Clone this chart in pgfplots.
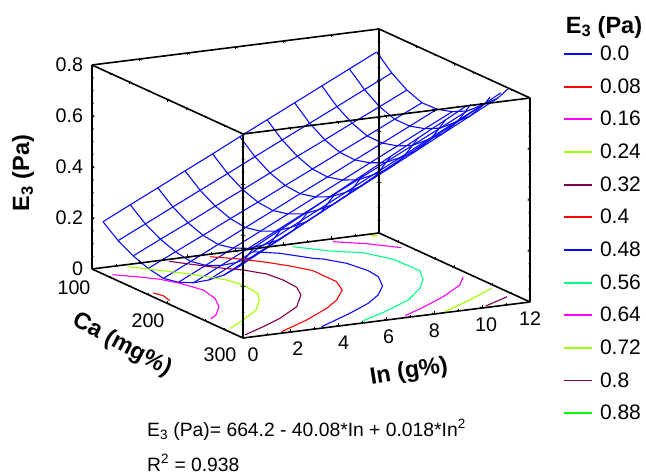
\documentclass[border=0pt]{standalone}
\usepackage{pgfplots}
\pgfplotsset{compat=1.18}
\usepackage{fontspec}
\setmainfont{Liberation Sans}
\newcommand{\fs}{\fontsize{19.7}{24}\selectfont}
\newcommand{\lf}{\fontsize{21}{25}\selectfont}
\newcommand{\bs}{\fontsize{23.5}{28}\selectfont\bfseries}
\definecolor{cB}{RGB}{10,10,255}
\definecolor{cR}{RGB}{255,0,0}
\definecolor{cM}{RGB}{255,0,255}
\definecolor{cL}{RGB}{160,255,0}
\definecolor{cD}{RGB}{128,0,80}
\definecolor{cG}{RGB}{0,255,128}
\pgfplotsset{mm/.style={cB,line width=1.1pt,forget plot,line join=round},
 cc/.style={#1,line width=1.1pt,forget plot,line join=round}}
\begin{document}
\begin{tikzpicture}[x=1pt,y=1pt]
\path[use as bounding box] (0,0) rectangle (646,476);
\begin{axis}[
 at={(92pt,207pt)}, anchor=origin,
 x={(23.92pt,3pt)}, y={(0.755pt,-0.345pt)}, z={(0pt,255pt)},
 xmin=0,xmax=12,ymin=100,ymax=300,zmin=0,zmax=0.8,
 3d box=complete*, clip=false, axis on top,
 axis line style={line width=1.6pt,black},
 xtick={0,2,...,12}, ytick={100,200,300}, ztick={0,0.2,0.4,0.6,0.8},
 xticklabels={\hspace*{20pt}0,\hspace*{14pt}2,\hspace*{10pt}4,\hspace*{4pt}6,8,\hspace*{8pt}10,12},
 yticklabels={\hspace*{3pt}\rule{0pt}{18pt}100,200,300\hspace*{7pt}},
 zticklabels={0,0.2,0.4,0.6,0.8},
 minor x tick num=1, minor y tick num=3, minor z tick num=3,
 tick align=inside, major tick length=2.5pt, minor tick length=1.5pt,
 tick style={black,line width=0.8pt},
 grid=none,
 tick label style={font=\fs},
 x tick label style={anchor=center,xshift=0pt,yshift=-16.5pt},
 y tick label style={anchor=center,xshift=-19.5pt,yshift=-17pt},
 z tick label style={anchor=east,xshift=-5.5pt},
 /pgf/number format/assume math mode=true,
 legend style={at={(axis cs:19.57,100,0.661)},anchor=north west,draw=none,fill=none,font=\lf,row sep=12.5pt,legend cell align=left},
 legend image code/.code={\draw[#1] (0pt,0pt) -- (28pt,0pt);},
]
% mesh: lines of constant In
\addplot3[mm] coordinates {(.46,100,.180)(.46,120,.133)(.46,140,.100)(.46,160,.078)(.46,180,.066)(.46,200,.078)(.46,220,.103)(.46,240,.141)(.46,260,.187)(.46,280,.247)(.46,300,.350)};
\addplot3[mm] coordinates {(1.60,100,.233)(1.60,120,.185)(1.60,140,.152)(1.60,160,.130)(1.60,180,.119)(1.60,200,.131)(1.60,220,.157)(1.60,240,.196)(1.60,260,.243)(1.60,280,.305)(1.60,300,.408)};
\addplot3[mm] coordinates {(2.75,100,.286)(2.75,120,.238)(2.75,140,.203)(2.75,160,.181)(2.75,180,.172)(2.75,200,.185)(2.75,220,.211)(2.75,240,.251)(2.75,260,.299)(2.75,280,.363)(2.75,300,.466)};
\addplot3[mm] coordinates {(3.89,100,.339)(3.89,120,.290)(3.89,140,.255)(3.89,160,.233)(3.89,180,.225)(3.89,200,.238)(3.89,220,.265)(3.89,240,.307)(3.89,260,.355)(3.89,280,.420)(3.89,300,.524)};
\addplot3[mm] coordinates {(5.04,100,.392)(5.04,120,.342)(5.04,140,.306)(5.04,160,.284)(5.04,180,.278)(5.04,200,.292)(5.04,220,.319)(5.04,240,.362)(5.04,260,.411)(5.04,280,.478)(5.04,300,.582)};
\addplot3[mm] coordinates {(6.18,100,.446)(6.18,120,.395)(6.18,140,.358)(6.18,160,.336)(6.18,180,.331)(6.18,200,.345)(6.18,220,.373)(6.18,240,.417)(6.18,260,.467)(6.18,280,.536)(6.18,300,.640)};
\addplot3[mm] coordinates {(7.32,100,.499)(7.32,120,.447)(7.32,140,.410)(7.32,160,.387)(7.32,180,.383)(7.32,200,.398)(7.32,220,.426)(7.32,240,.472)(7.32,260,.522)(7.32,280,.594)(7.32,300,.698)};
\addplot3[mm] coordinates {(8.47,100,.552)(8.47,120,.499)(8.47,140,.461)(8.47,160,.439)(8.47,180,.436)(8.47,200,.452)(8.47,220,.480)(8.47,240,.527)(8.47,260,.578)(8.47,280,.652)(8.47,300,.756)};
\addplot3[mm] coordinates {(9.61,100,.605)(9.61,120,.551)(9.61,140,.513)(9.61,160,.490)(9.61,180,.489)(9.61,200,.505)(9.61,220,.534)(9.61,240,.583)(9.61,260,.634)(9.61,280,.709)(9.61,297.3,.800)};
\addplot3[mm] coordinates {(10.76,100,.658)(10.76,120,.604)(10.76,140,.564)(10.76,160,.542)(10.76,180,.542)(10.76,200,.559)(10.76,220,.588)(10.76,240,.638)(10.76,260,.690)(10.76,280,.767)(10.76,286.3,.800)};
\addplot3[mm] coordinates {(11.90,100,.711)(11.90,120,.656)(11.90,140,.616)(11.90,160,.593)(11.90,180,.595)(11.90,200,.612)(11.90,220,.642)(11.90,240,.693)(11.90,260,.746)(11.90,273.6,.800)};
% mesh: lines of constant Ca
\addplot3[mm] coordinates {(.46,100,.180)(1.60,100,.233)(2.75,100,.286)(3.89,100,.339)(5.04,100,.392)(6.18,100,.446)(7.32,100,.499)(8.47,100,.552)(9.61,100,.605)(10.76,100,.658)(11.90,100,.711)};
\addplot3[mm] coordinates {(.46,120,.133)(1.60,120,.185)(2.75,120,.238)(3.89,120,.290)(5.04,120,.342)(6.18,120,.395)(7.32,120,.447)(8.47,120,.499)(9.61,120,.551)(10.76,120,.604)(11.90,120,.656)};
\addplot3[mm] coordinates {(.46,140,.100)(1.60,140,.152)(2.75,140,.203)(3.89,140,.255)(5.04,140,.306)(6.18,140,.358)(7.32,140,.410)(8.47,140,.461)(9.61,140,.513)(10.76,140,.564)(11.90,140,.616)};
\addplot3[mm] coordinates {(.46,160,.078)(1.60,160,.130)(2.75,160,.181)(3.89,160,.233)(5.04,160,.284)(6.18,160,.336)(7.32,160,.387)(8.47,160,.439)(9.61,160,.490)(10.76,160,.542)(11.90,160,.593)};
\addplot3[mm] coordinates {(.46,180,.066)(1.60,180,.119)(2.75,180,.172)(3.89,180,.225)(5.04,180,.278)(6.18,180,.331)(7.32,180,.383)(8.47,180,.436)(9.61,180,.489)(10.76,180,.542)(11.90,180,.595)};
\addplot3[mm] coordinates {(.46,200,.078)(1.60,200,.131)(2.75,200,.185)(3.89,200,.238)(5.04,200,.292)(6.18,200,.345)(7.32,200,.398)(8.47,200,.452)(9.61,200,.505)(10.76,200,.559)(11.90,200,.612)};
\addplot3[mm] coordinates {(.46,220,.103)(1.60,220,.157)(2.75,220,.211)(3.89,220,.265)(5.04,220,.319)(6.18,220,.373)(7.32,220,.426)(8.47,220,.480)(9.61,220,.534)(10.76,220,.588)(11.90,220,.642)};
\addplot3[mm] coordinates {(.46,240,.141)(1.60,240,.196)(2.75,240,.251)(3.89,240,.307)(5.04,240,.362)(6.18,240,.417)(7.32,240,.472)(8.47,240,.527)(9.61,240,.583)(10.76,240,.638)(11.90,240,.693)};
\addplot3[mm] coordinates {(.46,260,.187)(1.60,260,.243)(2.75,260,.299)(3.89,260,.355)(5.04,260,.411)(6.18,260,.467)(7.32,260,.522)(8.47,260,.578)(9.61,260,.634)(10.76,260,.690)(11.90,260,.746)};
\addplot3[mm] coordinates {(.46,280,.247)(1.60,280,.305)(2.75,280,.363)(3.89,280,.420)(5.04,280,.478)(6.18,280,.536)(7.32,280,.594)(8.47,280,.652)(9.61,280,.709)(10.76,280,.767)(11.41,280,.800)};
\addplot3[mm] coordinates {(.46,300,.350)(1.60,300,.408)(2.75,300,.466)(3.89,300,.524)(5.04,300,.582)(6.18,300,.640)(7.32,300,.698)(8.47,300,.756)(9.34,300,.800)};
% contours on the floor
\addplot3[cc=cR] coordinates {(.288,172,0)(.422,181,0)(.283,194,0)};
\addplot3[cc=cM] coordinates {(.257,118.8,0)(.913,130.3,0)(1.49,142.8,0)(1.86,157.6,0)(2.14,179.5,0)(1.93,201.7,0)(1.46,221.9,0)(.765,240,0)(.303,247.5,0)};
\addplot3[cc=cL] coordinates {(1.355,105.1,0)(2.05,120.7,0)(2.85,139.3,0)(3.63,163.4,0)(3.81,179.5,0)(3.69,202.5,0)(3.26,218.2,0)(2.44,240,0)(1.30,259.1,0)(.24,275,0)};
\addplot3[cc=cD] coordinates {(3.08,104.5,0)(3.72,120.8,0)(4.36,135.8,0)(4.89,145.4,0)(5.37,161.2,0)(5.48,179.6,0)(5.40,200,0)(4.99,218.7,0)(4.01,244.1,0)(2.63,265.7,0)(1.48,280,0)(.28,293.7,0)};
\addplot3[cc=cR] coordinates {(4.75,105.7,0)(5.57,119.5,0)(6.21,134.6,0)(6.71,149.7,0)(7.13,167,0)(7.11,198.7,0)(6.70,219.1,0)(5.80,240.3,0)(4.88,256.3,0)(3.38,277.2,0)(1.72,296.7,0)};
\addplot3[cc=cB] coordinates {(6.53,106.7,0)(7.29,117.9,0)(8.02,138.8,0)(8.30,143.3,0)(8.76,159.6,0)(8.94,182.7,0)(8.84,199.1,0)(8.31,221.5,0)(7.52,240.7,0)(6.60,256.8,0)(5.28,274.3,0)(3.39,296.7,0)};
\addplot3[cc=cG] coordinates {(8.2,106.7,0)(9.10,127,0)(10.07,140.3,0)(10.58,163.9,0)(10.63,197.4,0)(10.12,217.9,0)(9.37,237.4,0)(8.15,260.7,0)(6.54,280.7,0)(5.14,295.4,0)};
\addplot3[cc=cM] coordinates {(9.87,106.7,0)(10.82,120.8,0)(11.68,139.9,0)};
\addplot3[cc=cM] coordinates {(11.62,223.4,0)(10.92,241.3,0)(9.53,263.2,0)(8.11,281.6,0)(6.91,295.5,0)};
\addplot3[cc=cL] coordinates {(11.72,257.9,0)(10.30,276.5,0)(8.51,297.8,0)};
\addplot3[cc=cL] coordinates {(11.55,104,0)(11.75,106,0)};
\addplot3[cc=cD] coordinates {(11.63,281.4,0)(10.26,296.5,0)};
% legend
\addlegendimage{cB,line width=1.7pt}\addlegendentry{\hspace*{5pt}0.0}
\addlegendimage{cR,line width=1.7pt}\addlegendentry{\hspace*{5pt}0.08}
\addlegendimage{cM,line width=1.7pt}\addlegendentry{\hspace*{5pt}0.16}
\addlegendimage{cL,line width=1.7pt}\addlegendentry{\hspace*{5pt}0.24}
\addlegendimage{cD,line width=1.7pt}\addlegendentry{\hspace*{5pt}0.32}
\addlegendimage{cR,line width=1.7pt}\addlegendentry{\hspace*{5pt}0.4}
\addlegendimage{cB,line width=1.7pt}\addlegendentry{\hspace*{5pt}0.48}
\addlegendimage{cG,line width=1.7pt}\addlegendentry{\hspace*{5pt}0.56}
\addlegendimage{cM,line width=1.7pt}\addlegendentry{\hspace*{5pt}0.64}
\addlegendimage{cL,line width=1.7pt}\addlegendentry{\hspace*{5pt}0.72}
\addlegendimage{cD,line width=1.7pt}\addlegendentry{\hspace*{5pt}0.8}
\addlegendimage{green,line width=1.7pt}\addlegendentry{\hspace*{5pt}0.88}
\end{axis}
\node[font=\bs,anchor=center] at (604,449) {E\textsubscript{3} (Pa)};
\node[font=\bs,anchor=center,rotate=90] at (23,303) {E\textsubscript{3} (Pa)};
\node[font=\bs,anchor=center,rotate=-28] at (122,131) {Ca (mg\%)};
\node[font=\bs,anchor=center,rotate=9] at (409,104) {In (g\%)};
\node[font=\fontsize{19.3}{23}\selectfont,anchor=west,inner sep=0pt] at (147,46) {E\textsubscript{3} (Pa)= 664.2 - 40.08*In + 0.018*In\textsuperscript{2}};
\node[font=\fontsize{19.3}{23}\selectfont,anchor=west,inner sep=0pt] at (147,13) {R\textsuperscript{2} = 0.938};
\end{tikzpicture}
\end{document}
